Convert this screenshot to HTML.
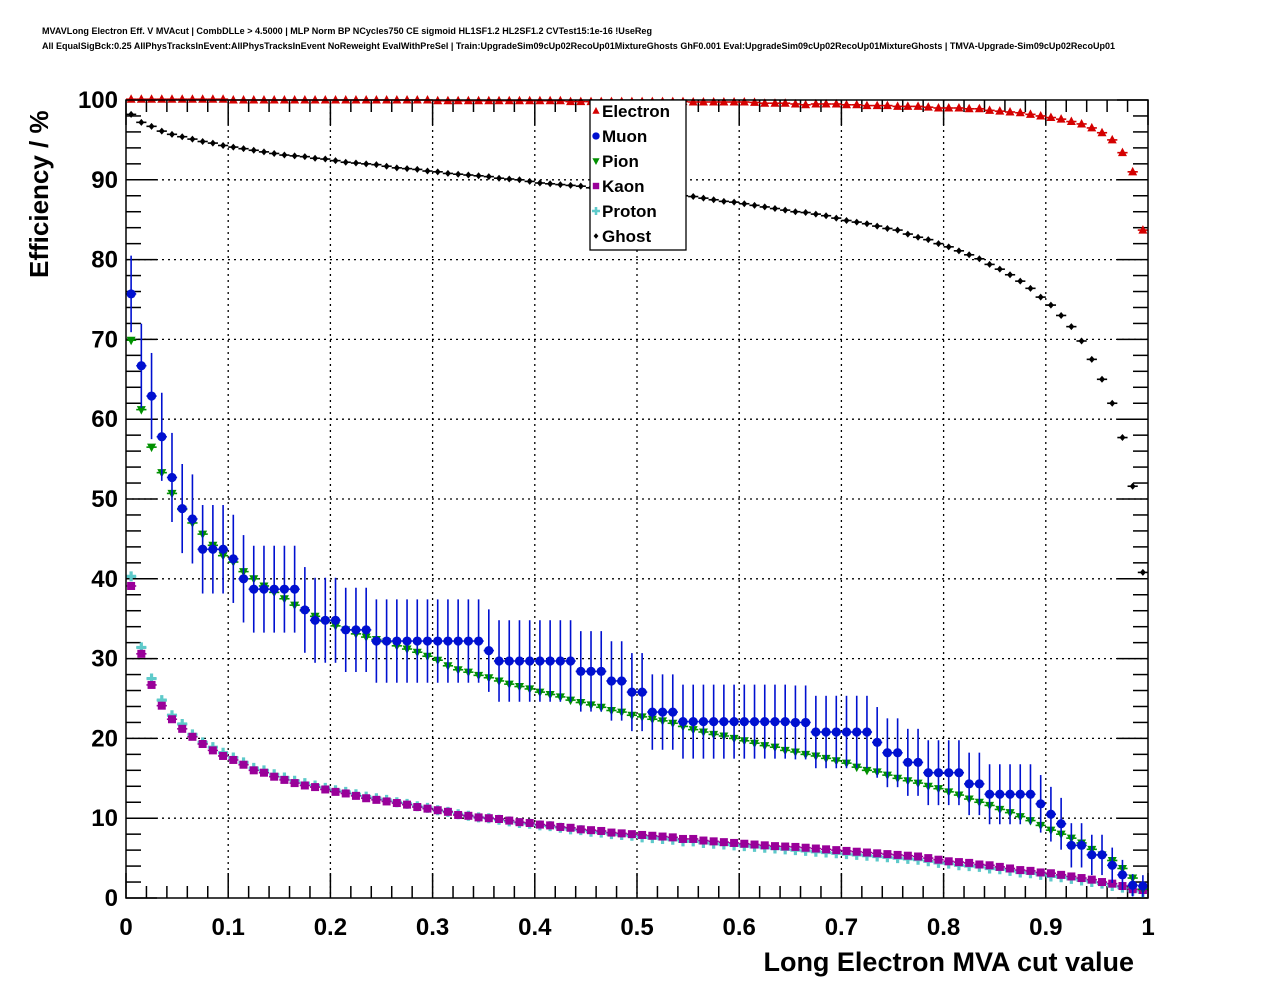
<!DOCTYPE html>
<html><head><meta charset="utf-8"><style>
html,body{margin:0;padding:0;background:#fff;}
svg{display:block;font-family:"Liberation Sans",Arial,sans-serif;}
</style></head><body>
<svg id="chart" width="1276" height="996" viewBox="0 0 1276 996" xmlns="http://www.w3.org/2000/svg">
<rect x="0" y="0" width="1276" height="996" fill="#fff"/>
<text x="42" y="34" font-size="9" font-weight="bold" textLength="610" lengthAdjust="spacingAndGlyphs">MVAVLong Electron Eff. V MVAcut | CombDLLe &gt; 4.5000 | MLP Norm BP NCycles750 CE sigmoid HL1SF1.2 HL2SF1.2 CVTest15:1e-16 !UseReg</text>
<text x="42" y="49" font-size="9" font-weight="bold" textLength="1073" lengthAdjust="spacingAndGlyphs">All EqualSigBck:0.25 AllPhysTracksInEvent:AllPhysTracksInEvent NoReweight EvalWithPreSel | Train:UpgradeSim09cUp02RecoUp01MixtureGhosts GhF0.001 Eval:UpgradeSim09cUp02RecoUp01MixtureGhosts | TMVA-Upgrade-Sim09cUp02RecoUp01</text>
<g id="grid"></g>
<g id="axes"></g>
<g id="series"></g>
<rect x="126" y="100" width="1022" height="798" fill="none" stroke="#000" stroke-width="1.5"/>
<text x="1134" y="971" font-size="27" font-weight="bold" text-anchor="end">Long Electron MVA cut value</text>
<text transform="translate(48,278) rotate(-90)" font-size="26" font-weight="bold">Efficiency / %</text>
<g id="legend"></g>
</svg>
<script>
const xTicks=["0","0.1","0.2","0.3","0.4","0.5","0.6","0.7","0.8","0.9","1"];
const yTicks=["0","10","20","30","40","50","60","70","80","90","100"];
const seriesNames=["Electron","Muon","Pion","Kaon","Proton","Ghost"];
const electron=[100.1,100.1,100.1,100.1,100.1,100.1,100.1,100.1,100.1,100.1,100,100,100,100,100,100,100,100,100,100,100,100,100,100,100,100,100,100,100,100,99.9,99.9,99.9,99.9,99.9,99.9,99.9,99.9,99.9,99.9,99.9,99.9,99.9,99.8,99.8,99.8,99.8,99.8,99.8,99.8,99.8,99.8,99.8,99.8,99.8,99.75,99.75,99.75,99.75,99.75,99.75,99.7,99.6,99.6,99.6,99.5,99.4,99.5,99.5,99.5,99.4,99.4,99.3,99.3,99.3,99.2,99.2,99.2,99.1,99.0,99.0,99.0,98.9,98.9,98.7,98.6,98.5,98.4,98.2,98.0,97.8,97.6,97.3,97.0,96.5,95.9,95.0,93.4,91.0,83.7];
const muon=[75.7,66.7,62.9,57.8,52.7,48.8,47.5,43.7,43.7,43.7,42.5,40.0,38.7,38.7,38.7,38.7,38.7,36.1,34.8,34.8,34.8,33.6,33.6,33.6,32.2,32.2,32.2,32.2,32.2,32.2,32.2,32.2,32.2,32.2,32.2,31.0,29.7,29.7,29.7,29.7,29.7,29.7,29.7,29.7,28.4,28.4,28.4,27.2,27.2,25.8,25.8,23.3,23.3,23.3,22.1,22.1,22.1,22.1,22.1,22.1,22.1,22.1,22.1,22.1,22.1,22.0,22.0,20.8,20.8,20.8,20.8,20.8,20.8,19.5,18.2,18.2,17.0,17.0,15.7,15.7,15.7,15.7,14.3,14.3,13.0,13.0,13.0,13.0,13.0,11.8,10.5,9.3,6.6,6.6,5.4,5.4,4.1,2.9,1.6,1.5];
const pion=[69.9,61.2,56.5,53.3,50.7,48.7,47.0,45.6,44.2,42.9,42.1,40.9,40.0,39.1,38.3,37.5,36.7,36.0,35.3,34.7,34.1,33.6,33.1,32.7,32.4,32.1,31.6,31.2,30.8,30.3,29.8,29.1,28.6,28.3,27.9,27.6,27.2,26.8,26.5,26.2,25.8,25.5,25.2,24.8,24.5,24.2,23.9,23.5,23.3,22.9,22.7,22.4,22.2,21.9,21.5,21.1,20.8,20.5,20.3,20.0,19.7,19.4,19.1,18.9,18.5,18.3,18.0,17.8,17.5,17.2,16.9,16.4,16.0,15.8,15.4,15.0,14.7,14.4,14.0,13.7,13.3,12.9,12.4,12.0,11.6,11.1,10.7,10.2,9.7,9.1,8.5,8.0,7.5,6.9,6.1,5.4,4.7,3.7,2.5,1.1];
const kaon=[39.1,30.6,26.7,24.1,22.4,21.2,20.2,19.3,18.5,17.8,17.3,16.7,16.0,15.7,15.2,14.8,14.4,14.1,13.9,13.6,13.3,13.1,12.8,12.5,12.3,12.1,11.9,11.7,11.4,11.2,11.0,10.8,10.4,10.3,10.1,10.0,9.9,9.7,9.5,9.4,9.2,9.1,8.9,8.8,8.6,8.5,8.4,8.2,8.1,8.0,7.9,7.8,7.7,7.6,7.4,7.4,7.2,7.1,7.0,6.9,6.8,6.7,6.6,6.5,6.45,6.4,6.3,6.2,6.1,6.0,5.9,5.8,5.7,5.6,5.5,5.4,5.3,5.2,5.0,4.8,4.6,4.5,4.4,4.2,4.1,3.9,3.7,3.5,3.4,3.2,3.1,2.9,2.7,2.5,2.3,2.0,1.8,1.5,1.1,1.0];
const proton=[40.3,31.4,27.5,24.8,22.9,21.8,20.5,19.5,18.9,18.2,17.6,17.0,16.3,16.0,15.5,15.1,14.7,14.4,14.1,13.8,13.5,13.3,13.0,12.7,12.5,12.3,12.0,11.8,11.5,11.3,11.0,10.8,10.5,10.3,10.1,10.0,9.8,9.6,9.4,9.3,9.1,9.0,8.8,8.6,8.5,8.3,8.2,8.0,7.9,7.8,7.6,7.5,7.4,7.3,7.1,7.1,6.9,6.8,6.7,6.6,6.5,6.4,6.3,6.2,6.1,6.0,5.9,5.8,5.7,5.6,5.5,5.4,5.3,5.2,5.1,5.0,4.9,4.8,4.6,4.4,4.3,4.1,4.0,3.9,3.7,3.6,3.4,3.2,3.1,2.9,2.7,2.6,2.4,2.2,2.0,1.8,1.5,1.3,0.9,0.7];
const ghost=[98.2,97.2,96.7,96.1,95.7,95.4,95.1,94.8,94.6,94.3,94.1,93.9,93.7,93.5,93.3,93.1,93.0,92.9,92.7,92.6,92.4,92.2,92.1,92.0,91.9,91.7,91.5,91.4,91.3,91.1,91.0,90.8,90.7,90.6,90.5,90.4,90.2,90.1,90.0,89.8,89.6,89.5,89.4,89.3,89.2,89.0,88.9,88.8,88.7,88.6,88.5,88.4,88.3,88.2,88.0,87.9,87.7,87.5,87.3,87.2,87.0,86.8,86.6,86.4,86.2,86.0,85.9,85.7,85.5,85.2,84.9,84.7,84.5,84.2,83.9,83.7,83.2,82.8,82.5,82.0,81.6,81.1,80.6,80.1,79.4,78.8,78.1,77.3,76.4,75.3,74.3,73.0,71.6,69.8,67.5,65.0,62.0,57.7,51.6,40.8];

const NS="http://www.w3.org/2000/svg";
const X0=126,X1=1148,Y0=898,Y1=100;
const xs=v=>X0+(X1-X0)*v;
const ys=v=>Y0-(Y0-Y1)*v/100;
function mk(tag,attrs,parent){const e=document.createElementNS(NS,tag);for(const k in attrs)e.setAttribute(k,attrs[k]);parent.appendChild(e);return e;}
const grid=document.getElementById('grid'),axes=document.getElementById('axes'),ser=document.getElementById('series'),leg=document.getElementById('legend');

xTicks.forEach((t,i)=>{
  const v=parseFloat(t),x=xs(v);
  if(i>0&&i<xTicks.length-1){const g=mk('line',{x1:x,y1:Y1,x2:x,y2:Y0,stroke:'#000','stroke-width':1.3,'stroke-dasharray':'2,4'},grid);
  
  }
  const tb=mk('line',{x1:x,y1:Y0,x2:x,y2:Y0-25,stroke:'#000','stroke-width':1.5},axes);
  
  
  mk('line',{x1:x,y1:Y1,x2:x,y2:Y1+25,stroke:'#000','stroke-width':1.5},axes);
  const lb=mk('text',{x:x,y:935,'font-size':24,'font-weight':'bold','text-anchor':'middle'},axes);
  lb.textContent=t;
  
  
});
for(let k=1;k<50;k++){if(k%5===0)continue;const x=xs(k/50);
  mk('line',{x1:x,y1:Y0,x2:x,y2:Y0-12,stroke:'#000','stroke-width':1.5},axes);
  mk('line',{x1:x,y1:Y1,x2:x,y2:Y1+12,stroke:'#000','stroke-width':1.5},axes);}
yTicks.forEach((t,i)=>{
  const v=parseFloat(t),y=ys(v);
  if(i>0&&i<yTicks.length-1){const g=mk('line',{x1:X0,y1:y,x2:X1,y2:y,stroke:'#000','stroke-width':1.3,'stroke-dasharray':'2,4'},grid);
  
  }
  const tk=mk('line',{x1:X0,y1:y,x2:X0+31,y2:y,stroke:'#000','stroke-width':1.5},axes);
  
  
  mk('line',{x1:X1,y1:y,x2:X1-31,y2:y,stroke:'#000','stroke-width':1.5},axes);
  const lb=mk('text',{x:118,y:y+8,'font-size':24,'font-weight':'bold','text-anchor':'end'},axes);
  lb.textContent=t;
  
  
});
for(let k=1;k<50;k++){if(k%5===0)continue;const y=ys(k*2);
  mk('line',{x1:X0,y1:y,x2:X0+15,y2:y,stroke:'#000','stroke-width':1.5},axes);
  mk('line',{x1:X1,y1:y,x2:X1-15,y2:y,stroke:'#000','stroke-width':1.5},axes);}

function marker(type,x,y,c,p,s){
  s=s||1;
  if(type==='tu')return mk('polygon',{points:`${x},${y-5*s} ${x-4.5*s},${y+3.5*s} ${x+4.5*s},${y+3.5*s}`,fill:c},p);
  if(type==='td')return mk('polygon',{points:`${x},${y+5*s} ${x-4.5*s},${y-3.5*s} ${x+4.5*s},${y-3.5*s}`,fill:c},p);
  if(type==='c')return mk('circle',{cx:x,cy:y,r:4.6*s,fill:c},p);
  if(type==='sq')return mk('rect',{x:x-4*s,y:y-4*s,width:8*s,height:8*s,fill:c},p);
  if(type==='plus')return mk('path',{d:`M${x-5*s},${y}H${x+5*s}M${x},${y-5*s}V${y+5*s}`,stroke:c,'stroke-width':3.2*s,fill:'none'},p);
  if(type==='gh')return mk('path',{d:`M${x-3*s},${y}L${x},${y-3.5*s}L${x+3*s},${y}L${x},${y+3.5*s}Z`,fill:c},p);
}
const styles=[
 {data:electron,c:'#d40000',m:'tu',err:0,name:'electron'},
 {data:muon,c:'#0010d0',m:'c',err:80,name:'muon'},
 {data:pion,c:'#009000',m:'td',err:0,name:'pion'},
 {data:kaon,c:'#990099',m:'sq',err:0,name:'kaon'},
 {data:proton,c:'#5ecaca',m:'plus',err:0,name:'proton'},
 {data:ghost,c:'#000',m:'gh',err:0,name:'ghost'}];
const drawOrder=[4,3,2,1,0,5];
drawOrder.forEach(si=>{
  const st=styles[si];
  const g=mk('g',{},ser);
  
  
  const n=st.data.length,bw=(X1-X0)/n;
  st.data.forEach((v,i)=>{
    const x=X0+bw*(i+0.5),y=ys(v);
    mk('line',{x1:x-bw/2,y1:y,x2:x+bw/2,y2:y,stroke:st.c,'stroke-width':1.6},g);
    if(st.err){const p=v/100,e=100*Math.sqrt(p*(1-p)/st.err);
      mk('line',{x1:x,y1:ys(Math.min(100,v+e)),x2:x,y2:ys(Math.max(0,v-e)),stroke:st.c,'stroke-width':1.6},g);}
    const m=marker(st.m,x,y,st.c,g);
    
    
  });
});
mk('rect',{x:590,y:100,width:96,height:150,fill:'#fff',stroke:'#000','stroke-width':1.3},leg);
seriesNames.forEach((nm,i)=>{
  const y=111+i*25,st=styles[i];
  const e=mk('g',{},leg);
  
  
  marker(st.m,596,y,st.c,e,0.8);
  const t=mk('text',{x:602,y:y+6,'font-size':17,'font-weight':'bold'},e);
  t.textContent=nm;
});
</script>
</body></html>
